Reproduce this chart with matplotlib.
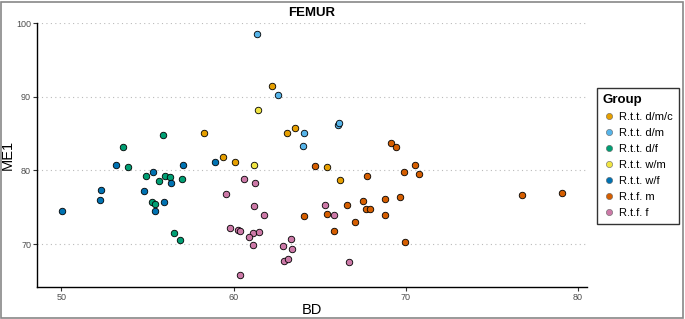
import matplotlib
matplotlib.use("agg")
import matplotlib.pyplot as plt
from matplotlib.lines import Line2D

plt.rcParams['font.family'] = ['Liberation Sans', 'DejaVu Sans']

groups = ['R.t.t. d/m/c', 'R.t.t. d/m', 'R.t.t. d/f', 'R.t.t. w/m',
          'R.t.t. w/f', 'R.t.f. m', 'R.t.f. f']
colors = ['#E69F00', '#56B4E9', '#009E73', '#F0E442',
          '#0072B2', '#D55E00', '#CC79A7']

# BD, ME1 per group
dmc_bd = [62.2, 58.27, 63.1, 63.59, 59.37, 60.07, 65.41, 66.18]
dmc_me = [91.5, 85.16, 85.16, 85.84, 81.86, 81.22, 80.5, 78.64]

dm_bd = [61.36, 62.6, 64.09, 64.02, 66.03, 66.13]
dm_me = [98.55, 90.31, 85.16, 83.35, 86.2, 86.5]

df_bd = [55.91, 53.58, 53.89, 54.9, 55.67, 56.02, 56.33, 56.99, 55.28, 55.46, 56.54, 56.89]
df_me = [84.88, 83.2, 80.54, 79.19, 78.56, 79.19, 79.05, 78.78, 75.66, 75.39, 71.55, 70.56]

wm_bd = [61.42, 61.17]
wm_me = [88.24, 80.73]

wf_bd = [53.19, 57.08, 55.31, 56.37, 52.32, 54.82, 52.26, 55.95, 55.46, 50.06, 58.89]
wf_me = [80.8, 80.68, 79.73, 78.29, 77.29, 77.15, 75.98, 75.75, 74.49, 74.49, 81.22]

m_bd = [69.13, 69.44, 64.75, 64.11, 65.41, 65.85, 70.54, 69.88, 70.77, 67.77, 67.52,
        66.59, 67.69, 67.94, 68.8, 69.67, 68.76, 67.06, 69.94, 76.74, 79.06]
m_me = [83.76, 83.17, 80.64, 73.85, 74.12, 71.72, 80.73, 79.86, 79.55, 79.19, 75.89,
        75.35, 74.8, 74.8, 76.12, 76.34, 73.89, 72.94, 70.33, 76.6, 76.9]

f_bd = [60.59, 61.25, 59.56, 61.17, 61.79, 65.3, 65.8, 59.8, 60.24, 60.38, 61.1, 60.9,
        61.48, 61.1, 62.88, 63.32, 63.38, 62.95, 63.18, 60.34, 66.72]
f_me = [78.83, 78.33, 76.84, 75.12, 73.95, 75.3, 73.9, 72.23, 71.86, 71.82, 71.45, 70.96,
        71.68, 69.88, 69.74, 70.69, 69.38, 67.75, 67.92, 65.8, 67.52]

data = [(dmc_bd, dmc_me), (dm_bd, dm_me), (df_bd, df_me), (wm_bd, wm_me),
        (wf_bd, wf_me), (m_bd, m_me), (f_bd, f_me)]

fig = plt.figure(figsize=(6.85, 3.19), dpi=100)
ax = fig.add_axes([0.0545, 0.1013, 0.802, 0.8277])

for (bd, me), col in zip(data, colors):
    ax.scatter(bd, me, s=22, c=col, edgecolors='black', linewidths=0.6, zorder=3)

ax.set_xlim(48.6, 80.5)
ax.set_ylim(64.2, 100.1)
ax.set_xticks([50, 60, 70, 80])
ax.set_yticks([70, 80, 90, 100])
ax.yaxis.grid(True, linestyle=(0, (1, 3)), color='#BBBBBB', linewidth=0.8)
ax.set_axisbelow(True)
for s in ['top', 'right']:
    ax.spines[s].set_visible(False)
for s in ['left', 'bottom']:
    ax.spines[s].set_color('black')
    ax.spines[s].set_linewidth(1.0)
ax.tick_params(labelsize=6.5, labelcolor='#4D4D4D', color='#333333', length=3, width=0.8, pad=1.5)

ax.set_xlabel('BD', fontsize=10.5, labelpad=1)
ax.set_ylabel('ME1', fontsize=10.5, labelpad=1)
ax.set_title('FEMUR', fontsize=9.5, fontweight='bold', pad=5)

handles = [Line2D([], [], marker='o', linestyle='', markersize=4.5,
                  markerfacecolor=c, markeredgecolor='#666666', markeredgewidth=0.4)
           for c in colors]
leg = fig.legend(handles, groups, title='Group', loc='upper left',
                 bbox_to_anchor=(597 / 685, 1 - 88 / 319), borderaxespad=0,
                 fontsize=8, title_fontsize=9.5,
                 frameon=True, fancybox=False, edgecolor='black',
                 handletextpad=0.4, labelspacing=0.55, borderpad=0.5,
                 handlelength=1.1, alignment='left')
leg.get_title().set_fontweight('bold')
leg.get_frame().set_linewidth(1.0)

# grey border around the whole image
fig.patches.append(plt.Rectangle((0.002, 0.004), 0.995, 0.99, transform=fig.transFigure,
                                 fill=False, edgecolor='#888888', linewidth=1.2))

fig.savefig('out.png', dpi=100)
